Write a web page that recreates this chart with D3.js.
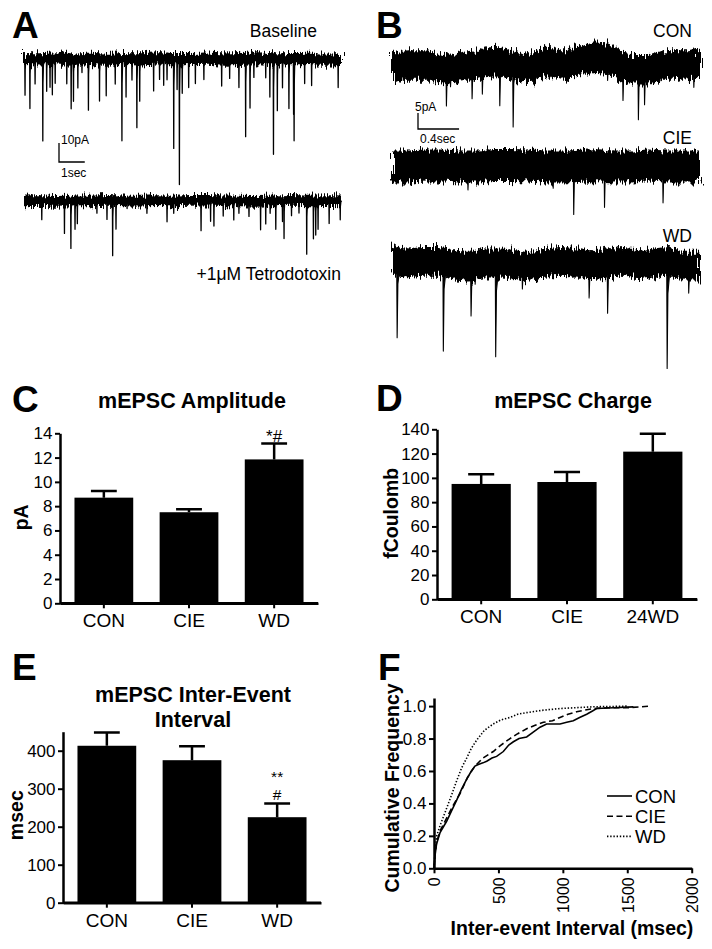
<!DOCTYPE html>
<html>
<head>
<meta charset="utf-8">
<style>
  body { margin: 0; background: #fff; }
  svg text { font-family: "Liberation Sans", Arial, Helvetica, sans-serif; fill: #000; }
  .letter { font-size: 37px; font-weight: bold; }
  .title { font-size: 21.5px; font-weight: bold; }
  .ylab { font-size: 19.5px; font-weight: bold; }
  .cond { font-size: 17.5px; }
  .scale-label { font-size: 12px; }
  .star { font-size: 17px; }
  .star-sm { font-size: 15.5px; }
  .legend { font-size: 18.5px; }
</style>
</head>
<body>
<svg id="fig" width="712" height="949"></svg>
<script src="https://d3js.org/d3.v7.min.js"></script>
<script>
// ---------- data ----------
// Panel A: events as [time s, amplitude pA]
const baselineEventsA = [[0.04,19],[0.23,26],[0.43,13],[0.73,43],[0.88,17],[1.01,15],[1.10,19],[1.21,13],[1.66,13],[1.83,26],[1.92,22],[2.09,15],[2.25,7],[2.50,27],[2.93,22],[3.19,19],[3.54,13],[3.80,43],[3.96,20],[4.19,11],[4.38,36],[4.49,22],[5.03,17],[5.26,11],[5.42,14],[5.55,11],[5.81,47],[5.94,16],[6.03,66],[6.14,18],[6.39,15],[6.65,13],[6.98,11],[7.67,14],[7.98,10],[8.34,15],[8.60,41],[8.77,26],[8.92,10],[9.38,10],[9.54,20],[9.68,50],[9.83,27],[10.03,15],[10.28,26],[10.46,29],[10.48,43],[10.89,13],[11.16,14],[12.19,15]];
const ttxEventsA = [[0.69,10],[1.57,17],[1.82,25],[1.98,15],[2.07,12],[2.83,6.5],[3.22,10],[3.44,29],[3.57,15],[4.0,4],[4.77,6.5],[5.55,11],[5.81,6.5],[6.87,16],[7.24,11],[7.37,13.5],[7.73,8],[8.14,10],[8.34,6.5],[8.73,8],[9.18,15],[9.38,12],[9.55,6.5],[9.77,15],[10.03,11],[10.09,20],[10.38,8],[10.67,6.5],[10.97,28],[11.23,20],[11.32,18],[11.41,15],[11.84,12],[12.27,10]];
const baselineDriftA = [0,-0.2,0.3,-0.3,0.1,-0.4,0,-0.2,0.3,-0.1,0,0.2,-0.3,0,0.4,-0.2,-0.1,0.1,-0.3,0];
const ttxDriftA = [0,0.2,-0.2,0.1,0,0.3,0.1,-0.1,0.2,0,0.3,0.4,0.1,0,-0.2,0.1,0.3,0,0.2,0.1];

// Panel B
const conEventsB = [[0.11,4.5],[0.34,4.5],[0.53,11.5],[0.57,5.7],[0.78,10.4],[0.88,9.4],[1.05,13.5],[1.18,19.3],[1.46,5.2],[1.70,4],[2.10,6.3],[2.25,10.9],[2.40,15.6],[2.46,10.9],[2.62,4.5],[2.80,5],[2.94,7.3]];
const cieEventsB = [[0.74,7.3],[1.57,6.8],[1.77,15.1],[2.07,13],[2.64,11.4]];
const wdEventsB = [[0.05,24],[0.50,27.7],[0.77,15.7],[0.81,6],[1.01,29.3],[1.27,7.4],[1.92,10.5],[2.10,15.7],[2.68,33.4],[2.89,8.4]];
const conDriftB = [-1,0,0,-1.5,-0.5,0,1.1,0,-1,1.1,0,1.6,2.1,1.1,-1.5,-1.5,0,0,0.5];
const cieDriftB = [0,0,0.3,0.3,0,0,0.5,0.5,0.3,0,0,0.2,0.4,0,0,0.3,0,0,0];
const wdDriftB = [1,0,0.5,0.5,-0.5,-1,0,0,-0.5,-1,0,0.5,0,-0.5,0,0.5,-0.5,0,0.5,-1,-1];

// Panel C
const ampGroups = ["CON", "CIE", "WD"];
const ampMean = [8.7, 7.5, 11.85];
const ampSem = [0.55, 0.25, 1.3];
const ampTicks = [0, 2, 4, 6, 8, 10, 12, 14];

// Panel D
const chargeGroups = ["CON", "CIE", "24WD"];
const chargeMean = [95, 96.6, 121.6];
const chargeSem = [8, 8.3, 14.8];
const chargeTicks = [0, 20, 40, 60, 80, 100, 120, 140];

// Panel E
const ieiGroups = ["CON", "CIE", "WD"];
const ieiMean = [413, 375, 225];
const ieiSem = [35, 37, 36];
const ieiTicks = [0, 100, 200, 300, 400];

// Panel F: cumulative distributions [msec, fraction]
const cdfCON = [[0,0],[8,0.08],[20,0.15],[47,0.22],[98,0.29],[140,0.36],[176,0.42],[215,0.49],[254,0.55],[290,0.60],[318,0.63],[344,0.64],[380,0.65],[409,0.66],[450,0.68],[486,0.69],[538,0.72],[580,0.76],[616,0.78],[660,0.80],[719,0.81],[770,0.84],[823,0.87],[874,0.89],[930,0.89],[978,0.89],[1030,0.90],[1081,0.91],[1130,0.93],[1185,0.95],[1230,0.97],[1262,0.985],[1392,0.99],[1547,0.995]];
const cdfCIE = [[0,0],[8,0.09],[20,0.16],[47,0.23],[98,0.31],[150,0.39],[202,0.46],[260,0.56],[318,0.63],[380,0.68],[460,0.72],[520,0.76],[590,0.80],[650,0.83],[719,0.86],[780,0.88],[849,0.90],[920,0.91],[978,0.93],[1040,0.95],[1107,0.965],[1170,0.975],[1237,0.985],[1350,0.99],[1495,0.99],[1600,0.995],[1676,1.0]];
const cdfWD = [[0,0],[10,0.12],[21,0.2],[50,0.27],[98,0.37],[140,0.46],[176,0.54],[215,0.62],[254,0.68],[290,0.74],[331,0.79],[390,0.85],[460,0.89],[520,0.915],[590,0.93],[650,0.95],[719,0.96],[850,0.975],[978,0.985],[1100,0.99],[1237,0.996],[1400,0.998],[1495,1.0]];
const cdfTicksX = [0, 500, 1000, 1500, 2000];
const cdfTicksY = [0, 0.2, 0.4, 0.6, 0.8, 1.0];

// ---------- drawing ----------
const svg = d3.select("#fig");
svg.append("rect").attr("width", 712).attr("height", 949).attr("fill", "#fff");
const defs = svg.append("defs");

function roughFilter(id, freq, scale) {
  const f = defs.append("filter").attr("id", id)
    .attr("x", "-1%").attr("y", "-80%").attr("width", "102%").attr("height", "260%");
  f.append("feTurbulence").attr("type", "fractalNoise").attr("baseFrequency", freq)
    .attr("numOctaves", 2).attr("seed", 7).attr("result", "n");
  f.append("feDisplacementMap").attr("in", "SourceGraphic").attr("in2", "n")
    .attr("scale", scale).attr("xChannelSelector", "R").attr("yChannelSelector", "G");
}
roughFilter("roughA", "0.9 0.05", 13);
roughFilter("roughB", "0.55 0.04", 16);

function letter(t, x, y) {
  svg.append("text").attr("class", "letter").attr("x", x).attr("y", y).text(t);
}

function drawTrace(t) {
  const x = d3.scaleLinear().domain([0, t.dur]).range([t.x0, t.x1]);
  const y = d3.scaleLinear().domain([0, -10]).range([t.yc, t.yc + 10 * t.pxPerPA]);
  const bx = d3.scaleLinear().domain([0, t.drift.length - 1]).range([0, t.dur]);
  const baseAt = d3.scaleLinear().domain(t.drift.map((d, i) => bx(i))).range(t.drift);
  const g = svg.append("g");
  g.append("path").datum(t.drift)
    .attr("d", d3.area()
      .x((d, i) => x(bx(i)))
      .y0(d => y(d - t.noise))
      .y1(d => y(d + t.noise))
      .curve(d3.curveMonotoneX))
    .attr("fill", "#000")
    .attr("filter", `url(#${t.filter})`);
  const ev = d3.line().x(p => x(p[0])).y(p => y(p[1]));
  g.selectAll("path.ev").data(t.events).join("path")
    .attr("class", "ev")
    .attr("d", ([te, amp]) => {
      const b = baseAt(te);
      return ev([[te - t.rise, b], [te, b - amp], [te + t.decay * 0.12, b - amp * 0.3],
                 [te + t.decay * 0.45, b - amp * 0.08], [te + t.decay, b]]);
    })
    .attr("fill", "#000").attr("stroke", "#000").attr("stroke-width", t.sw)
    .attr("stroke-linejoin", "round");
  return { x, y };
}

// ----- Panel A -----
letter("A", 12, 38);
svg.append("text").attr("class", "cond").attr("x", 317).attr("y", 37).attr("text-anchor", "end").text("Baseline");
const a1 = drawTrace({ x0: 24, x1: 341, dur: 12.3, yc: 59, pxPerPA: 1.9, noise: 3.2, drift: baselineDriftA,
  events: baselineEventsA, rise: 0.01, decay: 0.05, sw: 1.3, filter: "roughA" });
drawTrace({ x0: 24, x1: 341, dur: 12.3, yc: 201, pxPerPA: 1.9, noise: 2.8, drift: ttxDriftA,
  events: ttxEventsA, rise: 0.01, decay: 0.05, sw: 1.3, filter: "roughA" });
svg.append("text").attr("class", "cond").attr("x", 341).attr("y", 280).attr("text-anchor", "end").text("+1\u03BCM Tetrodotoxin");
// scale bar 10 pA / 1 s
{
  const sx = 59, sy = 162;
  const h = a1.y(-10) - a1.y(0), w = a1.x(1) - a1.x(0);
  svg.append("path").attr("d", `M${sx},${sy - h}V${sy}H${sx + w}`).attr("fill", "none").attr("stroke", "#000").attr("stroke-width", 1.3);
  svg.append("text").attr("class", "scale-label").attr("x", sx + 2).attr("y", sy - h + 0.5).text("10pA");
  svg.append("text").attr("class", "scale-label").attr("x", sx + 2).attr("y", sy + 15).text("1sec");
}

// ----- Panel B -----
letter("B", 376, 38);
const bx0 = 392, bx1 = 700;
const b1 = drawTrace({ x0: bx0, x1: bx1, dur: 3.0, yc: 65, pxPerPA: 3.2, noise: 4.6, drift: conDriftB,
  events: conEventsB, rise: 0.004, decay: 0.05, sw: 1.1, filter: "roughB" });
drawTrace({ x0: bx0, x1: bx1, dur: 3.0, yc: 166.5, pxPerPA: 3.2, noise: 5.0, drift: cieDriftB,
  events: cieEventsB, rise: 0.004, decay: 0.05, sw: 1.1, filter: "roughB" });
drawTrace({ x0: bx0, x1: bx1, dur: 3.0, yc: 263, pxPerPA: 3.2, noise: 4.5, drift: wdDriftB,
  events: wdEventsB, rise: 0.004, decay: 0.06, sw: 1.1, filter: "roughB" });
svg.append("text").attr("class", "cond").attr("x", 692).attr("y", 37).attr("text-anchor", "end").text("CON");
svg.append("text").attr("class", "cond").attr("x", 692).attr("y", 144).attr("text-anchor", "end").text("CIE");
svg.append("text").attr("class", "cond").attr("x", 692).attr("y", 242).attr("text-anchor", "end").text("WD");
{
  const sx = 418, sy = 129;
  const h = b1.y(-5) - b1.y(0), w = b1.x(0.4) - b1.x(0);
  svg.append("path").attr("d", `M${sx},${sy - h}V${sy}H${sx + w}`).attr("fill", "none").attr("stroke", "#000").attr("stroke-width", 1.3);
  svg.append("text").attr("class", "scale-label").attr("x", sx - 3).attr("y", sy - h - 2).text("5pA");
  svg.append("text").attr("class", "scale-label").attr("x", sx + 2).attr("y", sy + 14).text("0.4sec");
}

// ----- bar panels -----
function styleAxis(sel, size) {
  sel.select(".domain").attr("stroke-width", 2.5);
  sel.selectAll(".tick line").attr("stroke-width", 2);
  sel.selectAll("text").attr("font-size", size).attr("font-family", null).attr("fill", "#000");
}

function barPanel(o) {
  const x = d3.scaleBand().domain(o.groups).range([o.left, o.right]).paddingInner(0.31).paddingOuter(0.17);
  const y = d3.scaleLinear().domain(o.domain).range([o.bottom, o.top]);
  const g = svg.append("g");
  const rows = o.groups.map((k, i) => ({ k, m: o.mean[i], e: o.sem[i] }));
  g.selectAll("rect").data(rows).join("rect")
    .attr("x", d => x(d.k)).attr("y", d => y(d.m))
    .attr("width", x.bandwidth()).attr("height", d => y(0) - y(d.m))
    .attr("fill", "#000");
  const cap = x.bandwidth() * 0.44;
  g.selectAll("path.err").data(rows).join("path").attr("class", "err")
    .attr("d", d => {
      const cx = x(d.k) + x.bandwidth() / 2;
      return `M${cx},${y(d.m)}V${y(d.m + d.e)}M${cx - cap / 2},${y(d.m + d.e)}H${cx + cap / 2}`;
    })
    .attr("fill", "none").attr("stroke", "#000").attr("stroke-width", 2.5);
  g.append("g").attr("transform", `translate(${o.left},0)`)
    .call(d3.axisLeft(y).tickValues(o.ticks).tickSize(5).tickPadding(2.5).tickSizeOuter(0).tickFormat(d3.format("d")))
    .call(s => styleAxis(s, 17));
  g.append("g").attr("transform", `translate(0,${o.bottom})`)
    .call(d3.axisBottom(x).tickSize(5).tickPadding(5.5).tickSizeOuter(0))
    .call(s => styleAxis(s, 19));
  // x-axis line spans from the y axis
  g.append("line").attr("x1", o.left).attr("x2", o.right).attr("y1", o.bottom).attr("y2", o.bottom)
    .attr("stroke", "#000").attr("stroke-width", 2.5);
  o.title.forEach((t, i) => {
    g.append("text").attr("class", "title").attr("x", o.titleX).attr("y", o.titleY + i * 25)
      .attr("text-anchor", "middle").text(t);
  });
  g.append("text").attr("class", "ylab").attr("text-anchor", "middle")
    .attr("transform", `translate(${o.ylabX},${(o.bottom + o.top) / 2 + o.ylabDy}) rotate(-90)`)
    .text(o.ylab);
  return { x, y, g };
}

letter("C", 12, 412);
const pc = barPanel({ groups: ampGroups, mean: ampMean, sem: ampSem, ticks: ampTicks, domain: [0, 14],
  left: 60, right: 318, bottom: 603.3, top: 433.3, title: ["mEPSC Amplitude"], titleX: 192, titleY: 408,
  ylab: "pA", ylabX: 28, ylabDy: -1 });
pc.g.append("text").attr("class", "star").attr("text-anchor", "middle")
  .attr("x", pc.x("WD") + pc.x.bandwidth() / 2).attr("y", pc.y(ampMean[2] + ampSem[2]) - 1.5).text("*#");

letter("D", 376, 411);
barPanel({ groups: chargeGroups, mean: chargeMean, sem: chargeSem, ticks: chargeTicks, domain: [0, 140],
  left: 437, right: 697, bottom: 599.3, top: 429.3, title: ["mEPSC Charge"], titleX: 573, titleY: 408,
  ylab: "fCoulomb", ylabX: 398, ylabDy: -1 });

letter("E", 12, 680);
const pe = barPanel({ groups: ieiGroups, mean: ieiMean, sem: ieiSem, ticks: ieiTicks, domain: [0, 450],
  left: 63, right: 321, bottom: 902.7, top: 731.7, title: ["mEPSC Inter-Event", "Interval"], titleX: 193, titleY: 702,
  ylab: "msec", ylabX: 23, ylabDy: -2 });
{
  const cx = pe.x("WD") + pe.x.bandwidth() / 2, top = pe.y(ieiMean[2] + ieiSem[2]);
  pe.g.append("text").attr("class", "star-sm").attr("text-anchor", "middle").attr("x", cx).attr("y", top - 4).text("#");
  pe.g.append("text").attr("class", "star-sm").attr("text-anchor", "middle").attr("x", cx).attr("y", top - 21.5).text("**");
}

// ----- Panel F -----
letter("F", 378, 680);
{
  const fx = d3.scaleLinear().domain([0, 2000]).range([434, 691.7]);
  const fy = d3.scaleLinear().domain([0, 1.05]).range([868.3, 698]);
  const g = svg.append("g");
  const line = d3.line().x(d => fx(d[0])).y(d => fy(d[1]));
  const series = [
    { name: "CON", data: cdfCON, dash: null },
    { name: "CIE", data: cdfCIE, dash: "6,3.5" },
    { name: "WD", data: cdfWD, dash: "1.4,1.8" }
  ];
  g.selectAll("path.cdf").data(series).join("path").attr("class", "cdf")
    .attr("d", d => line(d.data)).attr("fill", "none").attr("stroke", "#000")
    .attr("stroke-width", 1.6).attr("stroke-dasharray", d => d.dash);
  g.append("g").attr("transform", "translate(434,0)")
    .call(d3.axisLeft(fy).tickValues(cdfTicksY).tickSize(5).tickPadding(2.5).tickSizeOuter(0).tickFormat(d3.format(".1f")))
    .call(s => styleAxis(s, 17));
  g.append("g").attr("transform", "translate(0,868.3)")
    .call(d3.axisBottom(fx).tickValues(cdfTicksX).tickSize(5).tickSizeOuter(0).tickFormat(d3.format("d")))
    .call(s => styleAxis(s, 16))
    .call(s => s.selectAll("text").attr("transform", "rotate(-90)").attr("text-anchor", "end")
      .attr("x", -9).attr("y", 0).attr("dy", "0.36em"));
  g.append("text").attr("class", "ylab").attr("text-anchor", "middle")
    .attr("transform", "translate(399,788) rotate(-90)").text("Cumulative Frequency");
  g.append("text").attr("class", "ylab").attr("text-anchor", "middle")
    .attr("x", 572).attr("y", 935).text("Inter-event Interval (msec)");
  const leg = g.selectAll("g.leg").data(series).join("g").attr("class", "leg")
    .attr("transform", (d, i) => `translate(607,${796 + i * 20.2})`);
  leg.append("line").attr("x1", 0).attr("x2", 25).attr("stroke", "#000").attr("stroke-width", 1.6)
    .attr("stroke-dasharray", d => d.dash);
  leg.append("text").attr("class", "legend").attr("x", 28).attr("dy", "0.36em").text(d => d.name);
}
</script>
</body>
</html>
